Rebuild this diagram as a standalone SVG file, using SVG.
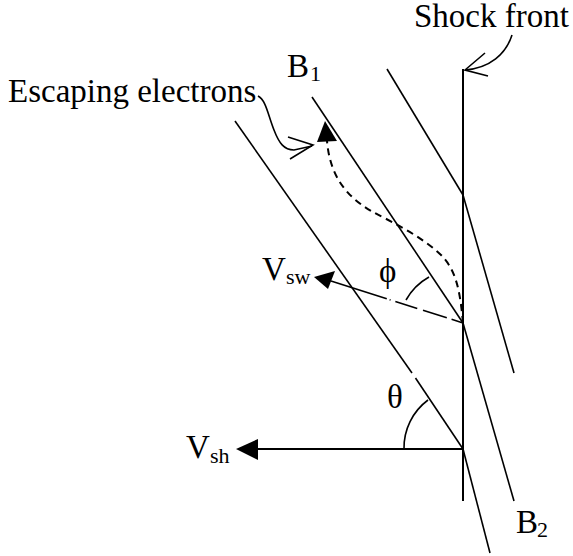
<svg xmlns="http://www.w3.org/2000/svg" width="573" height="556" viewBox="0 0 573 556">
<style>
.ln{stroke:#000;stroke-width:1.6;fill:none}
.th{stroke:#000;stroke-width:2;fill:none}
.ds{stroke:#000;stroke-width:2;fill:none;stroke-dasharray:7,5}
.t{font-family:"Liberation Serif","DejaVu Serif","Times New Roman",serif;font-size:33px;fill:#000}
.s{font-size:22px}
.ah{fill:#000;stroke:none}
</style>
<rect width="573" height="556" fill="#fff"/>
<g id="shock-front">
<line class="th" x1="463" y1="69" x2="463" y2="501"/>
</g>
<g id="field-lines">
<line class="ln" x1="235" y1="121" x2="412" y2="373"/>
<line class="ln" x1="415.5" y1="378" x2="463" y2="449"/>
<line class="ln" x1="463" y1="449" x2="490" y2="553"/>
<line class="ln" x1="312" y1="97" x2="463" y2="323"/>
<line class="ln" x1="463" y1="323" x2="514" y2="501"/>
<line class="ln" x1="387" y1="69" x2="463" y2="195"/>
<line class="ln" x1="463" y1="195" x2="514" y2="373"/>
</g>
<g id="connectors">
<path class="th" d="M463,449 L257,449"/>
<polygon class="ah" points="236,449 258,439 258,460"/>
<path class="ln" d="M463,323 L331,281" stroke-width="1.8" stroke-dasharray="12,5,25,6,23,5,1,3,70"/>
<polygon class="ah" points="314,277 335,271 328,289"/>
<path class="ds" d="M463,323 C460,290 456,270 441,255 C421,236 392,222 371,211 C346,196 330,176 327,141"/>
<polygon class="ah" points="325,121 317,142 337,141"/>
<path class="ln" stroke-width="2.4" d="M258,96 C266,100 268,115 274,130 C279,143 284,150 294,150 L312,146"/>
<path class="ln" d="M288,137 L313,145 L290,159"/>
<path class="ln" d="M512,35 C506,54 490,68 465,70"/>
<path class="ln" d="M485,53 L465,70 L488,76"/>
<path class="ln" d="M404,449 A59.5,59.5 0 0 1 428,400"/>
<path class="ln" d="M406,300 A60,60 0 0 1 429,277"/>
</g>
<g id="labels">
<text class="t" x="414" y="27">Shock front</text>
<text class="t" x="8" y="102">Escaping electrons</text>
<text class="t" x="287" y="77">B<tspan class="s" x="310" y="81">1</tspan></text>
<text class="t" x="516" y="533">B<tspan class="s" x="537" y="537">2</tspan></text>
<text class="t" x="262" y="280">V<tspan class="s" x="286" y="284">sw</tspan></text>
<text class="t" x="186" y="458">V<tspan class="s" x="210" y="463">sh</tspan></text>
<text class="t" x="379" y="282">ϕ</text>
<text class="t" x="387" y="408">θ</text>
</g>
</svg>
